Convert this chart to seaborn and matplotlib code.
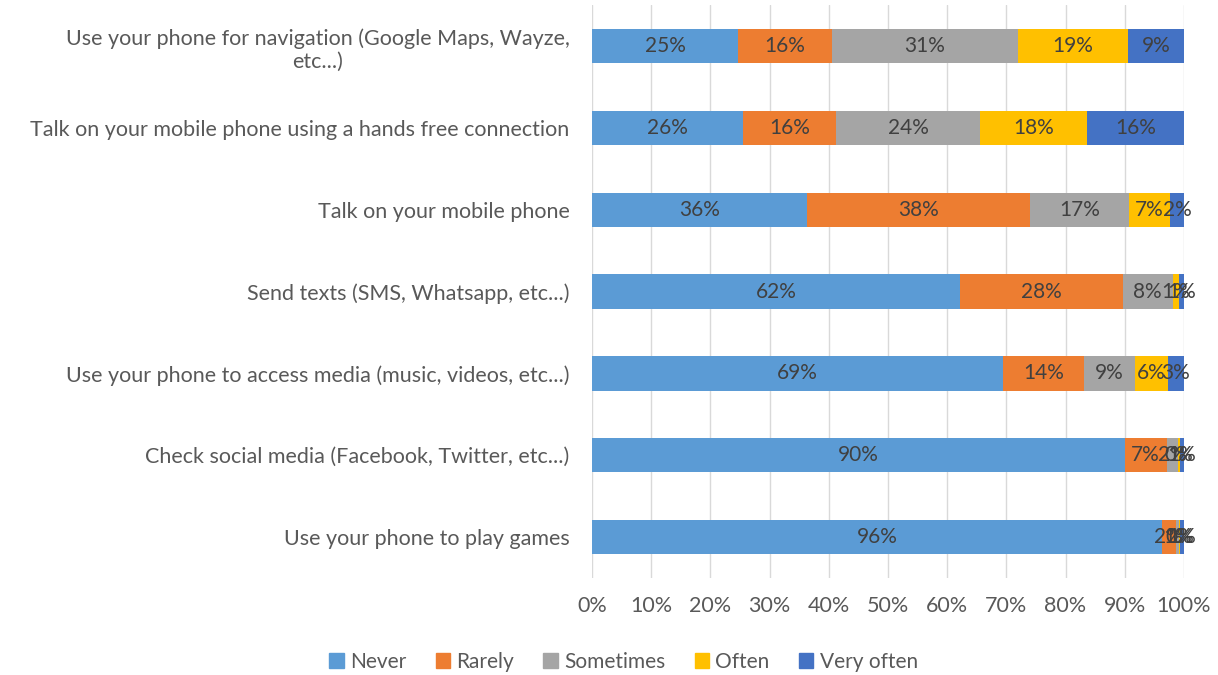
import matplotlib
matplotlib.use("Agg")
import matplotlib.pyplot as plt
from matplotlib.patches import Patch
from matplotlib.ticker import PercentFormatter
import numpy as np
import pandas as pd
import seaborn as sns

# survey answers, share of respondents per activity
activities = [
    "Use your phone for navigation (Google Maps, Wayze,\netc...)",
    "Talk on your mobile phone using a hands free connection",
    "Talk on your mobile phone",
    "Send texts (SMS, Whatsapp, etc...)",
    "Use your phone to access media (music, videos, etc...)",
    "Check social media (Facebook, Twitter, etc...)",
    "Use your phone to play games",
]
answers = ["Never", "Rarely", "Sometimes", "Often", "Very often"]
never = [24.7, 25.5, 36.3, 62.2, 69.4, 90.0, 96.3]
rarely = [15.8, 15.7, 37.7, 27.5, 13.7, 7.1, 2.3]
sometimes = [31.4, 24.4, 16.7, 8.4, 8.6, 1.9, 0.6]
often = [18.7, 18.1, 7.0, 1.0, 5.6, 0.4, 0.2]
very_often = [9.4, 16.3, 2.3, 0.9, 2.7, 0.6, 0.6]
colors = ["#5B9BD5", "#ED7D31", "#A5A5A5", "#FFC000", "#4472C4"]

sns.set_style("white")
plt.rcParams["font.family"] = ["Lato", "DejaVu Sans"]

df = pd.DataFrame({"activity": activities})
series = [never, rarely, sometimes, often, very_often]
vals = np.array(series) / 100.0
cum = np.cumsum(vals, axis=0)

fig = plt.figure(figsize=(12.18, 6.75), dpi=100)
ax = fig.add_axes([0.486, 0.144, 0.486, 0.848])

# stacked bars: draw cumulative totals from the widest down
for i in range(len(answers) - 1, -1, -1):
    df["x"] = cum[i]
    sns.barplot(data=df, x="x", y="activity", orient="h", color=colors[i],
                saturation=1, width=0.42, linewidth=0, ax=ax)

# percentage labels in the middle of each segment
for i in range(len(answers)):
    for j in range(len(activities)):
        mid = cum[i][j] - vals[i][j] / 2
        ax.text(mid, j, f"{int(series[i][j] + 0.5)}%", ha="center", va="center",
                fontsize=15, color="#404040")

ax.set_xlim(0, 1)
ax.set_ylim(6.5, -0.5)
ax.set_xticks(np.linspace(0, 1, 11))
ax.xaxis.set_major_formatter(PercentFormatter(1.0, decimals=0))
ax.grid(axis="x", color="#D9D9D9", linewidth=1)
ax.set_axisbelow(True)
for s in ax.spines.values():
    s.set_visible(False)
ax.set_xlabel("")
ax.set_ylabel("")
ax.tick_params(axis="both", length=0, labelsize=15.5, labelcolor="#595959")
ax.tick_params(axis="x", pad=13)
ax.tick_params(axis="y", pad=16)
for t in ax.get_yticklabels():
    t.set_multialignment("center")

handles = [Patch(color=c, label=a) for a, c in zip(answers, colors)]
fig.legend(handles=handles, loc="center", bbox_to_anchor=(0.512, 0.02),
           ncol=5, frameon=False, fontsize=15, handlelength=0.7,
           handleheight=0.7, handletextpad=0.3, columnspacing=1.4,
           labelcolor="#595959")

fig.savefig("out.png", dpi=100)
